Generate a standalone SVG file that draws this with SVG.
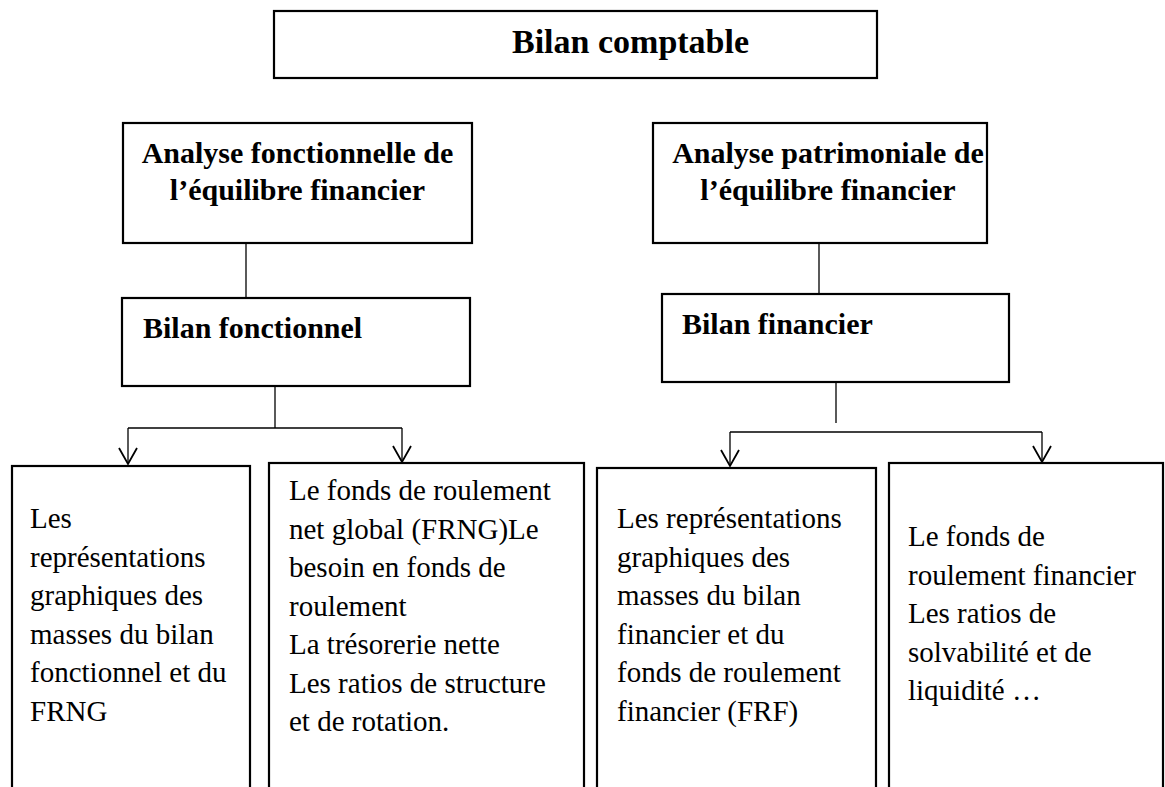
<svg xmlns="http://www.w3.org/2000/svg" width="1165" height="787" viewBox="0 0 1165 787">
  <style>
    .box { fill: #ffffff; stroke: #000000; stroke-width: 2.2; }
    .title { font-family: "Liberation Serif", "Times New Roman", serif; font-weight: bold; font-size: 34px; fill: #000000; }
    .head { font-family: "Liberation Serif", "Times New Roman", serif; font-weight: bold; font-size: 30px; fill: #000000; }
    .body { font-family: "Liberation Serif", "Times New Roman", serif; font-size: 29px; fill: #000000; }
    .conn { fill: none; stroke: #000000; stroke-width: 1.3; }
  </style>
  <defs>
    <marker id="openArrow" markerUnits="userSpaceOnUse" markerWidth="22" markerHeight="22" viewBox="-18 -11 20 22" refX="0" refY="0" orient="auto" overflow="visible">
      <path d="M-16,-9 L0,0 L-16,9" fill="none" stroke="#000000" stroke-width="1.8"/>
    </marker>
  </defs>
  <rect width="1165" height="787" fill="#ffffff"/>

  <g id="connectors">
    <line class="conn" x1="246" y1="243" x2="246" y2="298"/>
    <line class="conn" x1="275" y1="386" x2="275" y2="428"/>
    <line class="conn" x1="128" y1="428" x2="402" y2="428"/>
    <line class="conn" x1="128" y1="428" x2="128" y2="464" marker-end="url(#openArrow)"/>
    <line class="conn" x1="402" y1="428" x2="402" y2="462" marker-end="url(#openArrow)"/>
    <line class="conn" x1="819" y1="243" x2="819" y2="294"/>
    <line class="conn" x1="836" y1="382" x2="836" y2="423"/>
    <line class="conn" x1="730" y1="432" x2="1042" y2="432"/>
    <line class="conn" x1="730" y1="432" x2="730" y2="466" marker-end="url(#openArrow)"/>
    <line class="conn" x1="1042" y1="432" x2="1042" y2="462" marker-end="url(#openArrow)"/>
  </g>

  <g id="node-bilan-comptable">
    <rect class="box" x="274" y="11" width="603" height="67"/>
    <text class="title" x="512" y="53">Bilan comptable</text>
  </g>

  <g id="node-analyse-fonctionnelle">
    <rect class="box" x="123" y="123" width="349" height="120"/>
    <text class="head" x="297.5" y="163" text-anchor="middle">Analyse fonctionnelle de</text>
    <text class="head" x="297.5" y="200" text-anchor="middle">l’équilibre financier</text>
  </g>

  <g id="node-analyse-patrimoniale">
    <rect class="box" x="653" y="123" width="334" height="120"/>
    <text class="head" x="828" y="163" text-anchor="middle">Analyse patrimoniale de</text>
    <text class="head" x="828" y="200" text-anchor="middle">l’équilibre financier</text>
  </g>

  <g id="node-bilan-fonctionnel">
    <rect class="box" x="122" y="298" width="348" height="88"/>
    <text class="head" x="143" y="338">Bilan fonctionnel</text>
  </g>

  <g id="node-bilan-financier">
    <rect class="box" x="662" y="294" width="347" height="88"/>
    <text class="head" x="682" y="334">Bilan financier</text>
  </g>

  <g id="node-representations-fonctionnel">
    <rect class="box" x="12" y="466" width="238" height="340"/>
    <text class="body" x="30">
      <tspan x="30" y="528">Les</tspan>
      <tspan x="30" y="566.5">représentations</tspan>
      <tspan x="30" y="605">graphiques des</tspan>
      <tspan x="30" y="643.5">masses du bilan</tspan>
      <tspan x="30" y="682">fonctionnel et du</tspan>
      <tspan x="30" y="720.5">FRNG</tspan>
    </text>
  </g>

  <g id="node-frng">
    <rect class="box" x="269" y="463" width="315" height="343"/>
    <text class="body" x="289">
      <tspan x="289" y="500">Le fonds de roulement</tspan>
      <tspan x="289" y="538.5">net global (FRNG)Le</tspan>
      <tspan x="289" y="577">besoin en fonds de</tspan>
      <tspan x="289" y="615.5">roulement</tspan>
      <tspan x="289" y="654">La trésorerie nette</tspan>
      <tspan x="289" y="692.5">Les ratios de structure</tspan>
      <tspan x="289" y="731">et de rotation.</tspan>
    </text>
  </g>

  <g id="node-representations-financier">
    <rect class="box" x="597" y="468" width="279" height="338"/>
    <text class="body" x="617">
      <tspan x="617" y="528">Les représentations</tspan>
      <tspan x="617" y="566.5">graphiques des</tspan>
      <tspan x="617" y="605">masses du bilan</tspan>
      <tspan x="617" y="643.5">financier et du</tspan>
      <tspan x="617" y="682">fonds de roulement</tspan>
      <tspan x="617" y="720.5">financier (FRF)</tspan>
    </text>
  </g>

  <g id="node-frf">
    <rect class="box" x="889" y="463" width="274" height="343"/>
    <text class="body" x="908">
      <tspan x="908" y="546">Le fonds de</tspan>
      <tspan x="908" y="584.5">roulement financier</tspan>
      <tspan x="908" y="623">Les ratios de</tspan>
      <tspan x="908" y="661.5">solvabilité et de</tspan>
      <tspan x="908" y="700">liquidité …</tspan>
    </text>
  </g>
</svg>
